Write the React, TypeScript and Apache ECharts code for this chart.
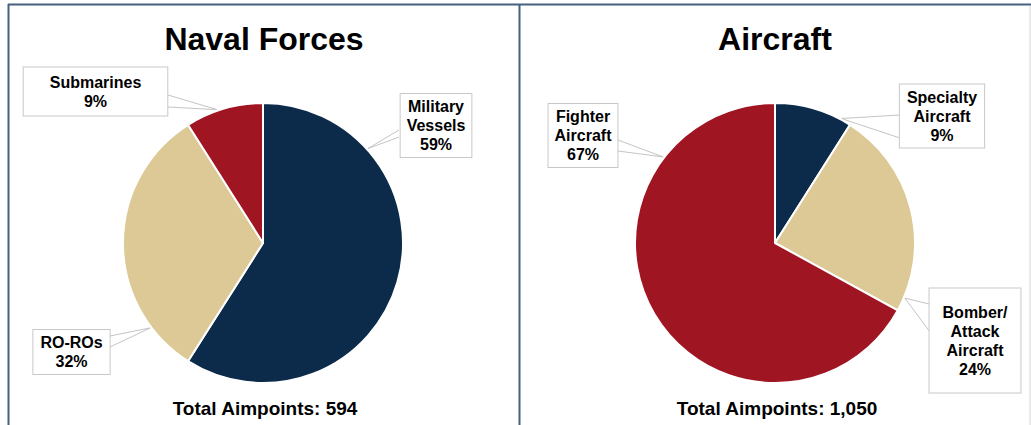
import React, { useEffect, useRef } from "react";
import * as echarts from "echarts";

const navalNames = ["Military\nVessels", "RO-ROs", "Submarines"];
const navalValues = [59, 32, 9];
const aircraftNames = ["Specialty\nAircraft", "Bomber/\nAttack\nAircraft", "Fighter\nAircraft"];
const aircraftValues = [9, 24, 67];
const sliceColors = ["#0c2a4a", "#dcc995", "#a01522"];
const titles = ["Naval Forces", "Aircraft"];
const totals = ["Total Aimpoints: 594", "Total Aimpoints: 1,050"];

// ---- layout only (label box centres, paddings, callout geometry) ----
const PIE_R = 140;
const navalCenter = [263, 243];
const aircraftCenter = [775, 243];
const navalLabelPos = [
  [436, 125.5],
  [71.5, 352],
  [95.5, 91.5],
];
const navalLabelPad = [
  [3, 6],
  [3, 7],
  [5, 26],
];
// callout: tip angle (deg clockwise from 12 o'clock), two points on box edge
const navalCallouts = [
  { angle: 48, a: [399, 130], b: [399, 137] },
  { angle: 233, a: [110, 336], b: [110, 347] },
  { angle: 341, a: [168, 95], b: [168, 107] },
];
const aircraftLabelPos = [
  [942, 116],
  [975, 340.5],
  [583, 135.5],
];
const aircraftLabelPad = [
  [3, 7],
  [14, 13],
  [3, 6],
];
const aircraftCallouts = [
  { angle: 28, a: [900, 115], b: [900, 138] },
  { angle: 113, a: [933, 305], b: [933, 336] },
  { angle: 307.6, a: [618, 140], b: [618, 151] },
];

const FONT = "Arial, 'Liberation Sans', Helvetica, sans-serif";

function makePie(
  names: string[],
  values: number[],
  center: number[],
  pos: number[][],
  pads: number[][],
  callouts: { angle: number; a: number[]; b: number[] }[]
) {
  return {
    type: "pie",
    radius: PIE_R,
    center,
    startAngle: 90,
    clockwise: true,
    silent: true,
    avoidLabelOverlap: false,
    itemStyle: { borderColor: "#ffffff", borderWidth: 2 },
    label: {
      show: true,
      position: "outside",
      formatter: (p: any) => `${p.name}\n${p.percent.toFixed(0)}%`,
      fontFamily: FONT,
      fontSize: 16,
      fontWeight: "bold",
      color: "#000000",
      lineHeight: 19,
      align: "center",
      backgroundColor: "#ffffff",
      borderColor: "#c8c8c8",
      borderWidth: 1,
    },
    labelLine: {
      show: true,
      length: 10,
      length2: 10,
      lineStyle: { color: "#c4c4c4", width: 1 },
    },
    labelLayout: (params: any) => {
      const i = params.dataIndex;
      const c = callouts[i];
      const rad = (c.angle * Math.PI) / 180;
      const tip = [
        center[0] + (PIE_R + 1) * Math.sin(rad),
        center[1] - (PIE_R + 1) * Math.cos(rad),
      ];
      return {
        x: pos[i][0],
        y: pos[i][1],
        align: "center",
        verticalAlign: "middle",
        labelLinePoints: [c.a, tip, c.b],
      };
    },
    data: names.map((n, i) => ({
      name: n,
      value: values[i],
      itemStyle: { color: sliceColors[i] },
      label: { padding: pads[i] },
    })),
  };
}

export default function App() {
  const ref = useRef<HTMLDivElement>(null);
  useEffect(() => {
    document.body.style.margin = "0";
    const chart = echarts.init(ref.current!, undefined, { renderer: "svg" });
    const frame = "#45617f";
    chart.setOption({
      animation: false,
      backgroundColor: "#ffffff",
      series: [
        makePie(navalNames, navalValues, navalCenter, navalLabelPos, navalLabelPad, navalCallouts),
        makePie(aircraftNames, aircraftValues, aircraftCenter, aircraftLabelPos, aircraftLabelPad, aircraftCallouts),
      ],
      graphic: [
        { type: "line", shape: { x1: 8, y1: 4.5, x2: 1031, y2: 4.5 }, style: { stroke: frame, lineWidth: 2 }, silent: true },
        { type: "line", shape: { x1: 8.5, y1: 4, x2: 8.5, y2: 425 }, style: { stroke: frame, lineWidth: 2 }, silent: true },
        { type: "line", shape: { x1: 519.5, y1: 4, x2: 519.5, y2: 425 }, style: { stroke: frame, lineWidth: 2 }, silent: true },
        { type: "line", shape: { x1: 1030, y1: 6, x2: 1030, y2: 425 }, style: { stroke: "#d4d4d4", lineWidth: 1 }, silent: true },
        { type: "text", x: 264, y: 39, style: { text: titles[0], font: `bold 32px ${FONT}`, fill: "#000", align: "center", verticalAlign: "middle" }, silent: true },
        { type: "text", x: 775, y: 39, style: { text: titles[1], font: `bold 32px ${FONT}`, fill: "#000", align: "center", verticalAlign: "middle" }, silent: true },
        { type: "text", x: 265, y: 408, style: { text: totals[0], font: `bold 19px ${FONT}`, fill: "#000", align: "center", verticalAlign: "middle" }, silent: true },
        { type: "text", x: 777, y: 408, style: { text: totals[1], font: `bold 19px ${FONT}`, fill: "#000", align: "center", verticalAlign: "middle" }, silent: true },
      ],
    });
    return () => chart.dispose();
  }, []);
  return (
    <div
      ref={ref}
      style={{ position: "fixed", left: 0, top: 0, width: 1031, height: 425 }}
    />
  );
}
